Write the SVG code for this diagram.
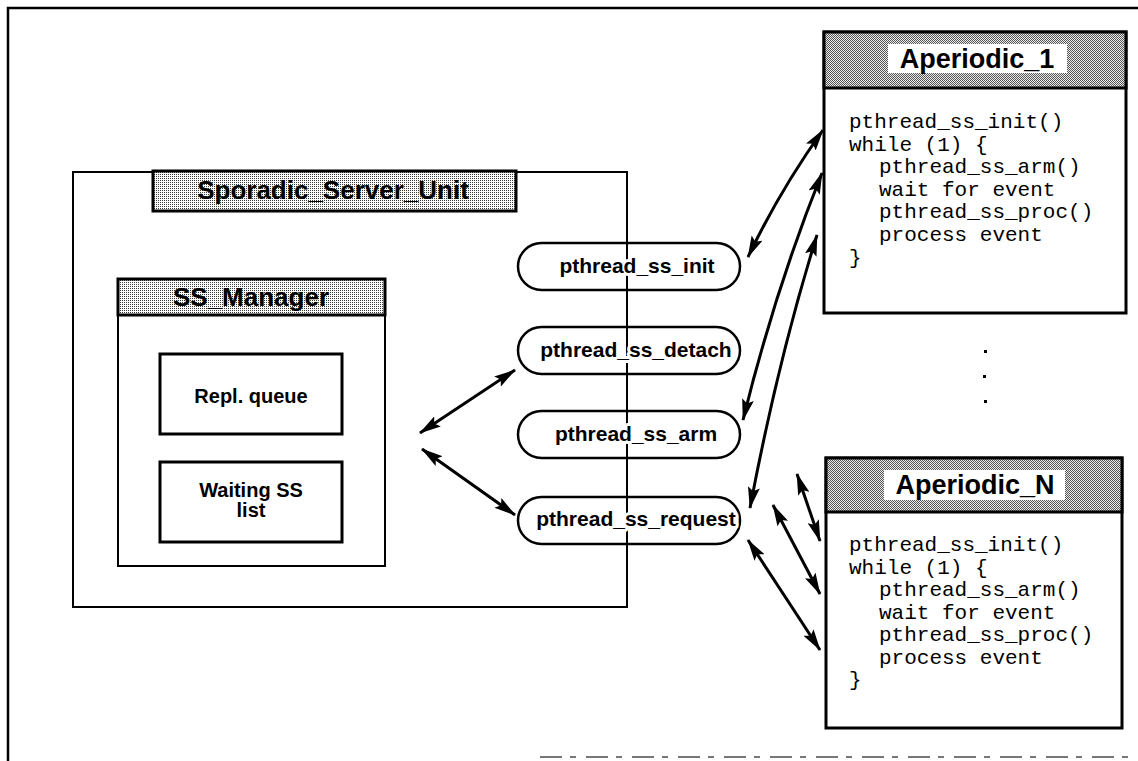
<svg xmlns="http://www.w3.org/2000/svg" width="1138" height="761" viewBox="0 0 1138 761">
  <defs>
    <!-- light stipple used on the unit / manager title bars -->
    <pattern id="stipple" width="2" height="2" patternUnits="userSpaceOnUse">
      <rect width="2" height="2" fill="#ffffff"/>
      <rect width="1" height="1" fill="#3a3a3a"/>
    </pattern>
    <!-- checker used on the task headers -->
    <pattern id="checker" width="2" height="2" patternUnits="userSpaceOnUse">
      <rect width="2" height="2" fill="#ececec"/>
      <rect width="1" height="1" fill="#555555"/>
      <rect x="1" y="1" width="1" height="1" fill="#555555"/>
    </pattern>
    <marker id="head" markerWidth="22" markerHeight="12" refX="21" refY="6" orient="auto-start-reverse" markerUnits="userSpaceOnUse">
      <path d="M0,0 L22,6 L0,12 L4,6 Z" fill="#000"/>
    </marker>
    <style>
      .frame { fill: none; stroke: #000; stroke-width: 2.5; }
      .box { fill: #fff; stroke: #000; stroke-width: 2; }
      .thick { fill: #fff; stroke: #000; stroke-width: 3; }
      .bar { fill: url(#stipple); stroke: #000; stroke-width: 3; }
      .dark { fill: url(#checker); stroke: #000; stroke-width: 3; }
      .pill { fill: #fff; stroke: #000; stroke-width: 2.5; }
      .title { font-family: "Liberation Sans", Arial, sans-serif; font-weight: bold; font-size: 26px; text-anchor: middle; fill: #000; }
      .label { font-family: "Liberation Sans", Arial, sans-serif; font-weight: bold; font-size: 20px; text-anchor: middle; fill: #000; }
      .op { font-family: "Liberation Sans", Arial, sans-serif; font-weight: bold; font-size: 21px; text-anchor: middle; fill: #000; stroke: #fff; stroke-width: 6; paint-order: stroke; stroke-linejoin: round; }
      .code { font-family: "Liberation Mono", "Courier New", monospace; font-size: 21px; fill: #000; }
      .link { fill: none; stroke: #000; stroke-width: 3; marker-start: url(#head); marker-end: url(#head); }
    </style>
  </defs>

  <rect width="1138" height="761" fill="#fff"/>

  <!-- page frame -->
  <g id="page-frame">
    <path class="frame" d="M8,761 L8,8 L1138,8"/>
    <line x1="540" y1="757" x2="1138" y2="757" stroke="#777" stroke-width="2" stroke-dasharray="22 8 6 10"/>
  </g>

  <!-- Sporadic server unit container -->
  <g id="sporadic-server-unit">
    <rect class="box" x="73" y="172" width="554" height="435"/>
    <rect class="bar" x="153" y="171" width="363" height="40"/>
    <text class="title" x="333" y="199">Sporadic_Server_Unit</text>
  </g>

  <!-- SS manager -->
  <g id="ss-manager">
    <rect class="box" x="118" y="279" width="267" height="287"/>
    <rect class="bar" x="118" y="279" width="267" height="36"/>
    <text class="title" x="251" y="306">SS_Manager</text>
  </g>

  <g id="repl-queue">
    <rect class="thick" x="160" y="354" width="182" height="80"/>
    <text class="label" x="251" y="403">Repl. queue</text>
  </g>

  <g id="waiting-ss-list">
    <rect class="thick" x="160" y="462" width="182" height="80"/>
    <text class="label" x="251" y="497">Waiting SS</text>
    <text class="label" x="251" y="517">list</text>
  </g>

  <!-- interface operations -->
  <g id="op-init">
    <rect class="pill" x="518" y="243" width="222" height="47" rx="23.5"/>
  </g>
  <g id="op-detach">
    <rect class="pill" x="518" y="327" width="222" height="47" rx="23.5"/>
  </g>
  <g id="op-arm">
    <rect class="pill" x="518" y="411" width="222" height="47" rx="23.5"/>
  </g>
  <g id="op-request">
    <rect class="pill" x="518" y="497" width="222" height="47" rx="23.5"/>
  </g>

  <!-- right edge of the unit runs across the operation ovals -->
  <line x1="627" y1="172" x2="627" y2="607" stroke="#000" stroke-width="2"/>

  <g id="op-labels">
    <text class="op" x="637" y="273">pthread_ss_init</text>
    <text class="op" x="636" y="357">pthread_ss_detach</text>
    <text class="op" x="636" y="441">pthread_ss_arm</text>
    <text class="op" x="636" y="526">pthread_ss_request</text>
  </g>

  <!-- first aperiodic task -->
  <g id="aperiodic-1">
    <rect class="thick" x="824" y="32" width="302" height="281"/>
    <rect class="dark" x="824" y="32" width="302" height="56"/>
    <rect x="888" y="44" width="179" height="29" fill="#fff"/>
    <text class="title" x="977" y="68" style="font-size:27px">Aperiodic_1</text>
    <text class="code" x="849" y="128">pthread_ss_init()</text>
    <text class="code" x="849" y="151">while (1) {</text>
    <text class="code" x="879" y="173">pthread_ss_arm()</text>
    <text class="code" x="879" y="196">wait for event</text>
    <text class="code" x="879" y="218">pthread_ss_proc()</text>
    <text class="code" x="879" y="241">process event</text>
    <text class="code" x="849" y="264">}</text>
  </g>

  <!-- ellipsis between tasks -->
  <g id="ellipsis" fill="#000">
    <rect x="984" y="350" width="3" height="3"/>
    <rect x="983" y="375" width="3" height="3"/>
    <rect x="984" y="400" width="3" height="3"/>
  </g>

  <!-- last aperiodic task -->
  <g id="aperiodic-n">
    <rect class="thick" x="826" y="458" width="296" height="270"/>
    <rect class="dark" x="826" y="458" width="296" height="54"/>
    <rect x="884" y="470" width="181" height="30" fill="#fff"/>
    <text class="title" x="975" y="494" style="font-size:27px">Aperiodic_N</text>
    <text class="code" x="849" y="551">pthread_ss_init()</text>
    <text class="code" x="849" y="574">while (1) {</text>
    <text class="code" x="879" y="596">pthread_ss_arm()</text>
    <text class="code" x="879" y="619">wait for event</text>
    <text class="code" x="879" y="641">pthread_ss_proc()</text>
    <text class="code" x="879" y="664">process event</text>
    <text class="code" x="849" y="686">}</text>
  </g>

  <!-- connectors -->
  <g id="connectors">
    <line class="link" x1="420" y1="433" x2="515" y2="370"/>
    <line class="link" x1="422" y1="449" x2="515" y2="515"/>
    <path class="link" d="M748,257 Q780,190 823,130"/>
    <path class="link" d="M743,420 Q775,290 822,173"/>
    <path class="link" d="M750,508 Q778,360 817,235"/>
    <line class="link" x1="797" y1="474" x2="820" y2="541"/>
    <line class="link" x1="773" y1="505" x2="820" y2="594"/>
    <line class="link" x1="748" y1="540" x2="820" y2="650"/>
  </g>
</svg>
